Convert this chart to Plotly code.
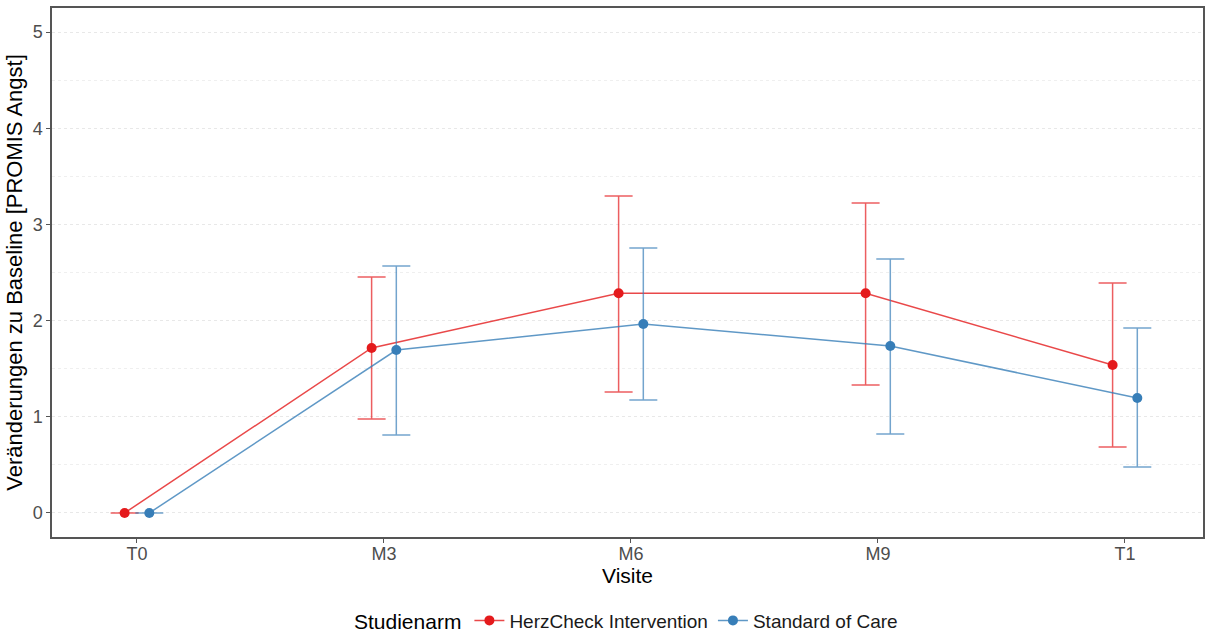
import plotly.graph_objects as go

# Visits and group summaries (mean change from baseline with CI bounds)
visits = ["T0", "M3", "M6", "M9", "T1"]

herz_mean = [0.0, 1.715, 2.285, 2.285, 1.538]
herz_upper = [0.0, 2.453, 3.295, 3.222, 2.391]
herz_lower = [0.0, 0.977, 1.258, 1.331, 0.686]

soc_mean = [0.0, 1.694, 1.965, 1.736, 1.195]
soc_upper = [0.0, 2.568, 2.755, 2.640, 1.923]
soc_lower = [0.0, 0.811, 1.175, 0.821, 0.478]

groups = [
    ("HerzCheck Intervention", herz_mean, herz_upper, herz_lower, "#E41A1C", "228,26,28", -0.05),
    ("Standard of Care", soc_mean, soc_upper, soc_lower, "#377EB8", "55,126,184", 0.05),
]

fig = go.Figure()
for name, mean, upper, lower, col, rgb, dodge in groups:
    xs = [i + dodge for i in range(len(visits))]
    fig.add_trace(go.Scatter(
        x=xs, y=mean, name=name, mode="lines+markers",
        line=dict(color=f"rgba({rgb},0.8)", width=1.5),
        marker=dict(color=col, size=10),
        error_y=dict(
            type="data", symmetric=False,
            array=[u - m for u, m in zip(upper, mean)],
            arrayminus=[m - l for m, l in zip(mean, lower)],
            color=f"rgba({rgb},0.7)", thickness=1.5, width=14,
        ),
    ))

fig.update_layout(
    width=1206, height=637,
    margin=dict(l=52, r=3, t=8, b=100, autoexpand=False),
    plot_bgcolor="white", paper_bgcolor="white",
    font=dict(family="Liberation Sans, Arial, sans-serif", color="#000000"),
    legend=dict(
        orientation="h", x=0.5, xanchor="center", y=-0.122, yanchor="top",
        title=dict(text="Studienarm", font=dict(size=21, color="#000000")),
        font=dict(size=19, color="#1a1a1a"),
        itemwidth=30,
    ),
    showlegend=True,
)

fig.update_xaxes(
    range=[-0.344, 4.316], automargin=False,
    tickmode="array", tickvals=list(range(len(visits))), ticktext=visits,
    showgrid=False, zeroline=False,
    showline=True, mirror=True, linecolor="#555555", linewidth=1.5,
    ticks="outside", ticklen=4, tickcolor="#555555", ticklabelstandoff=-4,
    tickfont=dict(size=18, color="#4D4D4D"),
    title=dict(text="Visite", font=dict(size=21, color="#000000"), standoff=0),
)
fig.update_yaxes(
    range=[-0.25, 5.25], automargin=False,
    tickmode="array", tickvals=[0, 1, 2, 3, 4, 5],
    showgrid=True, gridcolor="#E8E8E8", griddash="dot", gridwidth=1,
    minor=dict(tickvals=[0.5, 1.5, 2.5, 3.5, 4.5], showgrid=True,
               gridcolor="#EFEFEF", griddash="dot", gridwidth=1),
    zeroline=False,
    showline=True, mirror=True, linecolor="#555555", linewidth=1.5,
    ticks="outside", ticklen=4, tickcolor="#555555",
    tickfont=dict(size=18, color="#4D4D4D"),
    title=dict(text="Veränderungen zu Baseline [PROMIS Angst]",
               font=dict(size=22, color="#000000"), standoff=4),
)

fig.write_html("out.html")
